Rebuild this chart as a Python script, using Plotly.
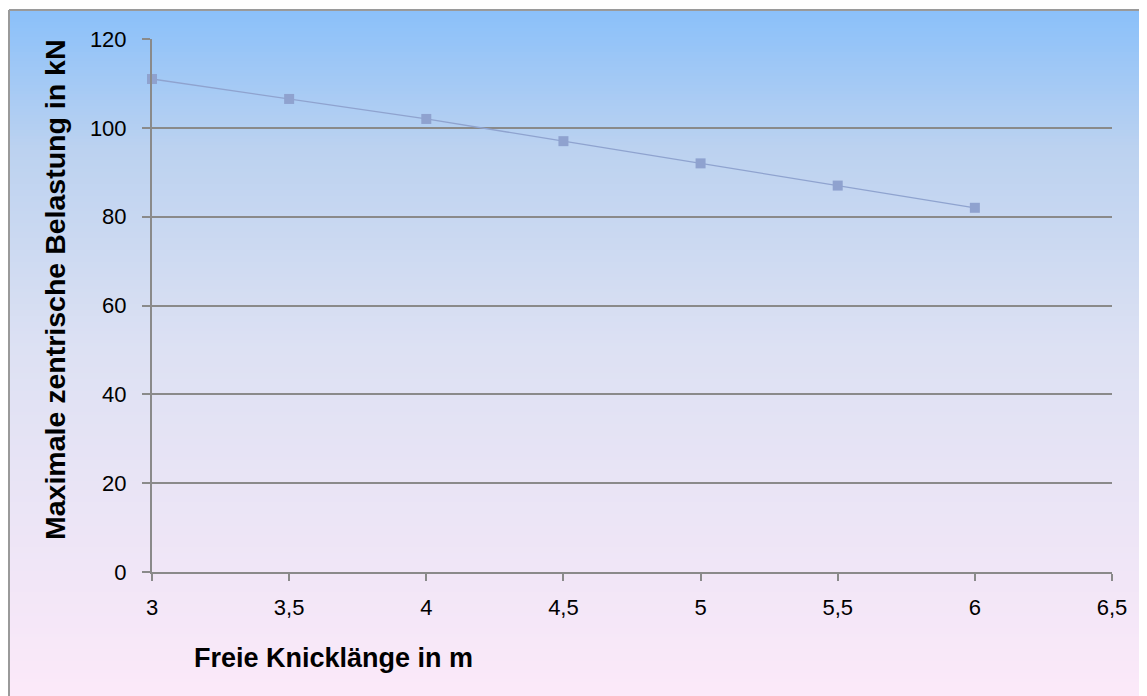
import plotly.graph_objects as go

# Data
knicklaenge_m = [3, 3.5, 4, 4.5, 5, 5.5, 6]
belastung_kN = [111, 106.5, 102, 97, 92, 87, 82]
x_tick_vals = [3, 3.5, 4, 4.5, 5, 5.5, 6, 6.5]
x_tick_text = ["3", "3,5", "4", "4,5", "5", "5,5", "6", "6,5"]
y_tick_vals = [0, 20, 40, 60, 80, 100, 120]
x_title = "Freie Knicklänge in m"
y_title = "Maximale zentrische Belastung in kN"

OFF = 8  # page body margin
W, H = 1147 - OFF, 696 - OFF
L, R, T, B = 152 - OFF, 1112 - OFF, 39 - OFF, 572 - OFF  # plot area in figure pixels

def px_x(p):
    return (p - OFF - L) / (R - L)

def px_y(p):
    return (B - (p - OFF)) / (B - T)

# gradient stops (screen pixel y, rgb)
stops = [(10, (138, 192, 250)), (150, (188, 210, 240)), (350, (221, 225, 243)), (700, (252, 233, 249))]

def col_at(y):
    for (y0, c0), (y1, c1) in zip(stops[:-1], stops[1:]):
        if y0 <= y <= y1:
            t = (y - y0) / (y1 - y0)
            return tuple(round(a + (b - a) * t) for a, b in zip(c0, c1))
    return stops[-1][1]

shapes = []
step = 3
y = 10
while y < 700:
    c = col_at(y + step / 2)
    shapes.append(dict(type="rect", xref="paper", yref="paper", layer="below",
                       x0=px_x(7), x1=px_x(1160), y0=px_y(y), y1=px_y(min(y + step + 0.5, 705)),
                       line=dict(width=0), fillcolor="rgb(%d,%d,%d)" % c))
    y += step

border = dict(width=2, color="#9a9a9a")
shapes.append(dict(type="line", xref="paper", yref="paper", layer="above",
                   x0=px_x(9), x1=px_x(1160), y0=px_y(10), y1=px_y(10), line=border))
shapes.append(dict(type="line", xref="paper", yref="paper", layer="above",
                   x0=px_x(9), x1=px_x(9), y0=px_y(10), y1=px_y(710), line=border))

fig = go.Figure()
fig.add_trace(go.Scatter(
    x=knicklaenge_m, y=belastung_kN, mode="lines+markers",
    line=dict(color="#8fa3cf", width=1.3),
    marker=dict(symbol="square", size=10, color="#8fa2cf"),
    showlegend=False, cliponaxis=False,
))

axis_font = dict(family="Liberation Sans, Arial, sans-serif", size=22, color="#000000")
grid_col = "#8a8a8a"

fig.update_layout(
    width=W, height=H,
    margin=dict(l=L, r=W - R, t=T, b=H - B, pad=0),
    paper_bgcolor="white", plot_bgcolor="rgba(0,0,0,0)",
    shapes=shapes,
    xaxis=dict(range=[3, 6.5], tickvals=x_tick_vals, ticktext=x_tick_text,
               showgrid=False, zeroline=False, showline=True, linecolor=grid_col, linewidth=2,
               ticks="outside", ticklen=7, tickwidth=2, tickcolor=grid_col,
               tickfont=axis_font, ticklabelstandoff=8),
    yaxis=dict(range=[0, 120], tickvals=y_tick_vals,
               showgrid=True, gridcolor=grid_col, gridwidth=2, zeroline=False,
               showline=True, linecolor=grid_col, linewidth=2,
               ticks="outside", ticklen=8, tickwidth=2, tickcolor=grid_col,
               tickfont=axis_font, ticklabelstandoff=11),
    annotations=[
        dict(text="<b>" + x_title + "</b>", xref="paper", yref="paper",
             x=px_x(192), y=px_y(658), xanchor="left", yanchor="middle", showarrow=False,
             font=dict(family="Liberation Sans, Arial, sans-serif", size=27, color="#000000")),
        dict(text="<b>" + y_title + "</b>", xref="paper", yref="paper",
             x=px_x(55), y=px_y(290), xanchor="center", yanchor="middle", showarrow=False,
             textangle=-90,
             font=dict(family="Liberation Sans, Arial, sans-serif", size=28.5, color="#000000")),
    ],
)

fig.write_html("out.html")
